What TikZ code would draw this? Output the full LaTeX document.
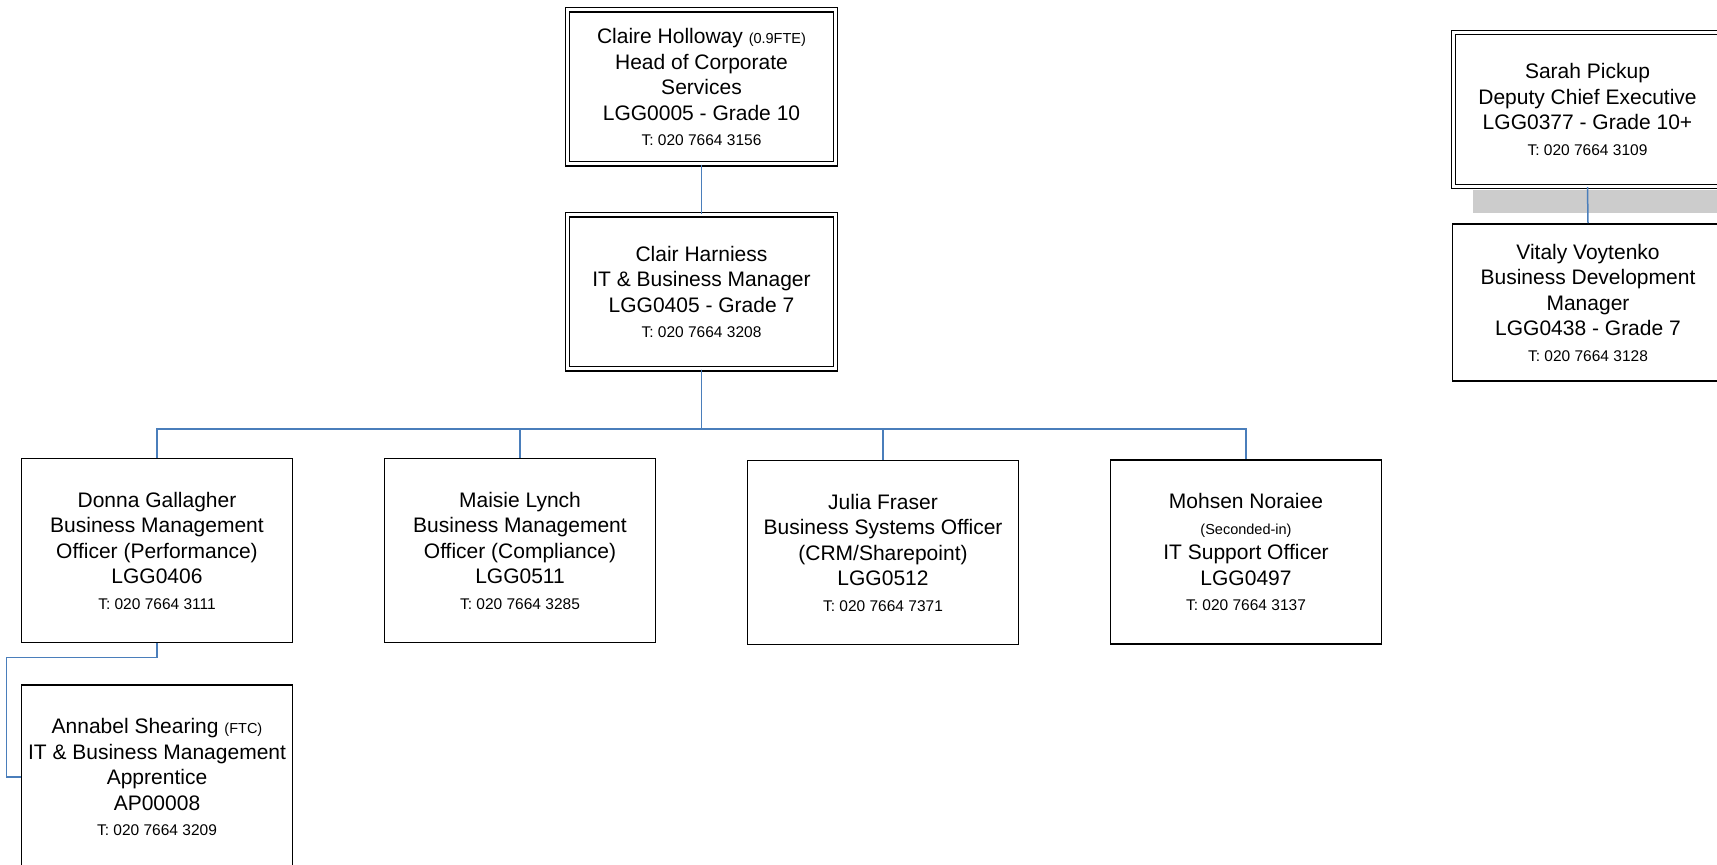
\documentclass[tikz,border=0pt]{standalone}
\usepackage{fontspec}
\setmainfont{Liberation Sans}
\definecolor{linkblue}{RGB}{74,126,187}
\newcommand{\phoneno}[1]{{\fontsize{15.5}{25.5}\selectfont T: #1}}
\newcommand{\extra}[1]{{\fontsize{14.5}{25.5}\selectfont #1}}
\tikzset{
  post/.style={draw=black, line width=1.6pt, fill=white, align=center,
    minimum width=271pt, minimum height=184pt, inner sep=0pt,
    font=\fontsize{21}{25.5}\selectfont},
  headpost/.style={post, line width=1.2pt, double, double distance=3pt,
    minimum width=268pt, minimum height=154pt},
  link/.style={linkblue, line width=1.5pt}
}

\begin{document}
\begin{tikzpicture}[x=1pt, y=1pt]
\useasboundingbox (0,0) rectangle (1717,865);
\clip (0,0) rectangle (1717,865);
% box Claire Holloway
\node[headpost] (holloway) at (701.5,778) {Claire Holloway \extra{(0.9FTE)}\\Head of Corporate\\Services\\LGG0005 - Grade 10\\\phoneno{020 7664 3156}};
% box Clair Harniess
\node[headpost] (harniess) at (701.5,573) {Clair Harniess\\IT \& Business Manager\\LGG0405 - Grade 7\\\phoneno{020 7664 3208}};
\coordinate (bus) at (0,436) ;
%% row of officers
\node[post] (gallagher) at (157,314.5) {Donna Gallagher\\Business Management\\Officer (Performance)\\LGG0406\\\phoneno{020 7664 3111}};
\node[post] (lynch) at (520,314.5) {Maisie Lynch\\Business Management\\Officer (Compliance)\\LGG0511\\\phoneno{020 7664 3285}};
\node[post] (fraser) at (883,312.5) {Julia Fraser\\Business Systems Officer\\(CRM/Sharepoint)\\LGG0512\\\phoneno{020 7664 7371}};
\node[post] (noraiee) at (1246,313) {Mohsen Noraiee\\\extra{(Seconded-in)}\\IT Support Officer\\LGG0497\\\phoneno{020 7664 3137}};
%% box Annabel Shearing
\node[post] (shearing) at (157,88) {Annabel Shearing \extra{(FTC)}\\IT \& Business Management\\Apprentice\\AP00008\\\phoneno{020 7664 3209}};
%% right hand side
\fill[gray!40] (1473,652) rectangle (1720,675);
\node[headpost] (pickup) at (1587.5,755.5) {Sarah Pickup\\Deputy Chief Executive\\LGG0377 - Grade 10+\\\phoneno{020 7664 3109}};
\node[post, minimum height=157pt] (voytenko) at (1588,562.5) {Vitaly Voytenko\\Business Development\\Manager\\LGG0438 - Grade 7\\\phoneno{020 7664 3128}};
% links
\draw[link] (holloway.south) -- (harniess.north);
\foreach \n in {gallagher,lynch,fraser,noraiee}
  \draw[link] (harniess.south) -- (harniess.south |- bus) -| (\n.north);
\draw[link] (gallagher.south) -- ++(0,-14) -| ([xshift=-14pt]shearing.west) -- (shearing.west);
\draw[link] (pickup.south) -- (voytenko.north);
\end{tikzpicture}
\end{document}
